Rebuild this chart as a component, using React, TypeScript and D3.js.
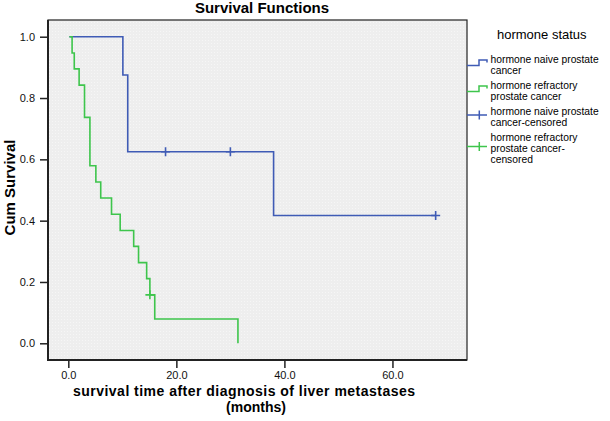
import React, { useEffect, useRef } from "react";
import * as d3 from "d3";

const width = 610;
const height = 421;

// valeurs
const xTicks = [0, 20, 40, 60];
const yTicks = [0, 0.2, 0.4, 0.6, 0.8, 1.0];

const startTime = 0.2;
const naiveTimes = [10.1, 11.0, 38.0, 68.0];
const naiveSurv = [0.875, 0.625, 0.417, 0.417];
const naiveCensored = [18.0, 30.0, 68.0];
const naiveCensoredSurv = [0.625, 0.625, 0.417];

const refractoryTimes = [0.7, 1.1, 2.0, 3.0, 4.0, 5.1, 6.0, 8.0, 9.6, 12.1, 13.0, 14.5, 15.1, 16.0, 31.4];
const refractorySurv = [0.947, 0.895, 0.842, 0.737, 0.579, 0.526, 0.474, 0.421, 0.368, 0.316, 0.263, 0.211, 0.158, 0.079, 0];
const refractoryCensored = [15.1];
const refractoryCensoredSurv = [0.158];

const legendTitle = "hormone status";
const legendItems = [
  { lines: ["hormone naive prostate", "cancer"], kind: "step", color: "#3f5bb5" },
  { lines: ["hormone refractory", "prostate cancer"], kind: "step", color: "#3ec54c" },
  { lines: ["hormone naive prostate", "cancer-censored"], kind: "plus", color: "#3f5bb5" },
  { lines: ["hormone refractory", "prostate cancer-", "censored"], kind: "plus", color: "#3ec54c" },
];

const blue = "#3f5bb5";
const green = "#3ec54c";
const font = "Arial, 'Liberation Sans', sans-serif";

function App() {
  const ref = useRef<SVGSVGElement>(null);

  useEffect(() => {
    const svg = d3.select(ref.current);
    svg.selectAll("*").remove();

    const left = 48, right = 467, top = 20, bottom = 360;
    const x = d3.scaleLinear().domain([-3.76, 73.8]).range([left, right]);
    const y = d3.scaleLinear().domain([-0.0545, 1.0545]).range([bottom, top]);

    const defs = svg.append("defs");
    const pat = defs.append("pattern")
      .attr("id", "dots")
      .attr("width", 3)
      .attr("height", 3)
      .attr("patternUnits", "userSpaceOnUse");
    pat.append("rect").attr("width", 3).attr("height", 3).attr("fill", "#eeeeee");
    pat.append("rect").attr("x", 1).attr("y", 1).attr("width", 1).attr("height", 1).attr("fill", "#f6f6f6");

    // fond du graphe
    svg.append("rect")
      .attr("x", left).attr("y", top)
      .attr("width", right - left).attr("height", bottom - top)
      .attr("fill", "url(#dots)")
      .attr("stroke", "#222")
      .attr("stroke-width", 1.2);
    svg.append("line").attr("x1", left).attr("x2", left).attr("y1", top).attr("y2", bottom + 1)
      .attr("stroke", "#222").attr("stroke-width", 2);
    svg.append("line").attr("x1", left).attr("x2", right).attr("y1", bottom).attr("y2", bottom)
      .attr("stroke", "#222").attr("stroke-width", 2);

    // axes
    const xAxis = svg.append("g").attr("transform", `translate(0,${bottom + 1})`)
      .call(d3.axisBottom(x).tickValues(xTicks).tickSize(7).tickPadding(3).tickFormat(d3.format(".1f")));
    const yAxis = svg.append("g").attr("transform", `translate(${left - 1},0)`)
      .call(d3.axisLeft(y).tickValues(yTicks).tickSize(7).tickPadding(5).tickFormat(d3.format(".1f")));
    [xAxis, yAxis].forEach(a => {
      a.select(".domain").remove();
      a.selectAll("line").attr("stroke", "#222").attr("stroke-width", 1.5);
      a.selectAll("text").attr("font-family", font).attr("font-size", 11).attr("fill", "#111");
    });

    const line = d3.line<[number, number]>()
      .curve(d3.curveStepAfter)
      .x(d => x(d[0]))
      .y(d => y(d[1]));

    const series = [
      { times: naiveTimes, surv: naiveSurv, cens: naiveCensored, censSurv: naiveCensoredSurv, color: blue },
      { times: refractoryTimes, surv: refractorySurv, cens: refractoryCensored, censSurv: refractoryCensoredSurv, color: green },
    ];

    series.forEach(s => {
      const pts: [number, number][] = [[startTime, 1], ...s.times.map((t, i) => [t, s.surv[i]] as [number, number])];
      svg.append("path")
        .attr("d", line(pts))
        .attr("fill", "none")
        .attr("stroke", s.color)
        .attr("stroke-width", 1.6);
      s.cens.forEach((t, i) => {
        const cx = x(t), cy = y(s.censSurv[i]);
        svg.append("path")
          .attr("d", `M${cx - 4.5},${cy}H${cx + 4.5}M${cx},${cy - 4.5}V${cy + 4.5}`)
          .attr("stroke", s.color)
          .attr("stroke-width", 1.6)
          .attr("fill", "none");
      });
    });

    // titre
    svg.append("text")
      .attr("x", 262).attr("y", 13)
      .attr("text-anchor", "middle")
      .attr("font-family", font).attr("font-weight", "bold").attr("font-size", 15)
      .text("Survival Functions");

    svg.append("text")
      .attr("transform", `translate(15,187.5) rotate(-90)`)
      .attr("text-anchor", "middle")
      .attr("font-family", font).attr("font-weight", "bold").attr("font-size", 15)
      .text("Cum Survival");

    // titre de l'axe x sur deux lignes
    svg.append("text")
      .attr("x", 244).attr("y", 395.5)
      .attr("text-anchor", "middle")
      .attr("font-family", font).attr("font-weight", "bold").attr("font-size", 14)
      .attr("textLength", 342).attr("lengthAdjust", "spacing")
      .text("survival time after diagnosis of liver metastases");
    svg.append("text")
      .attr("x", 256).attr("y", 411.5)
      .attr("text-anchor", "middle")
      .attr("font-family", font).attr("font-weight", "bold").attr("font-size", 14)
      .text("(months)");

    // légende
    svg.append("text")
      .attr("x", 497).attr("y", 39)
      .attr("font-family", font).attr("font-size", 13)
      .text(legendTitle);

    let ly = 62.5;
    legendItems.forEach(item => {
      const g = svg.append("g");
      const sy = ly + (item.lines.length === 3 ? 5.5 : 0);
      if (item.kind === "step") {
        g.append("path")
          .attr("d", `M467,${sy + 3}H479V${sy - 2.5}H487V${sy}`)
          .attr("fill", "none").attr("stroke", item.color).attr("stroke-width", 1.5);
      } else {
        g.append("path")
          .attr("d", `M467,${sy + 0.5}H487M479.3,${sy - 4}V${sy + 5}`)
          .attr("fill", "none").attr("stroke", item.color).attr("stroke-width", 1.5);
      }
      item.lines.forEach((t, i) => {
        g.append("text")
          .attr("x", 490.5).attr("y", ly + i * 11)
          .attr("font-family", font).attr("font-size", 10.3)
          .text(t);
      });
      ly += item.lines.length === 3 ? 0 : 26;
    });
  }, []);

  return <svg ref={ref} width={width} height={height} style={{ position: "absolute", left: 0, top: 0 }} />;
}

export default App;
